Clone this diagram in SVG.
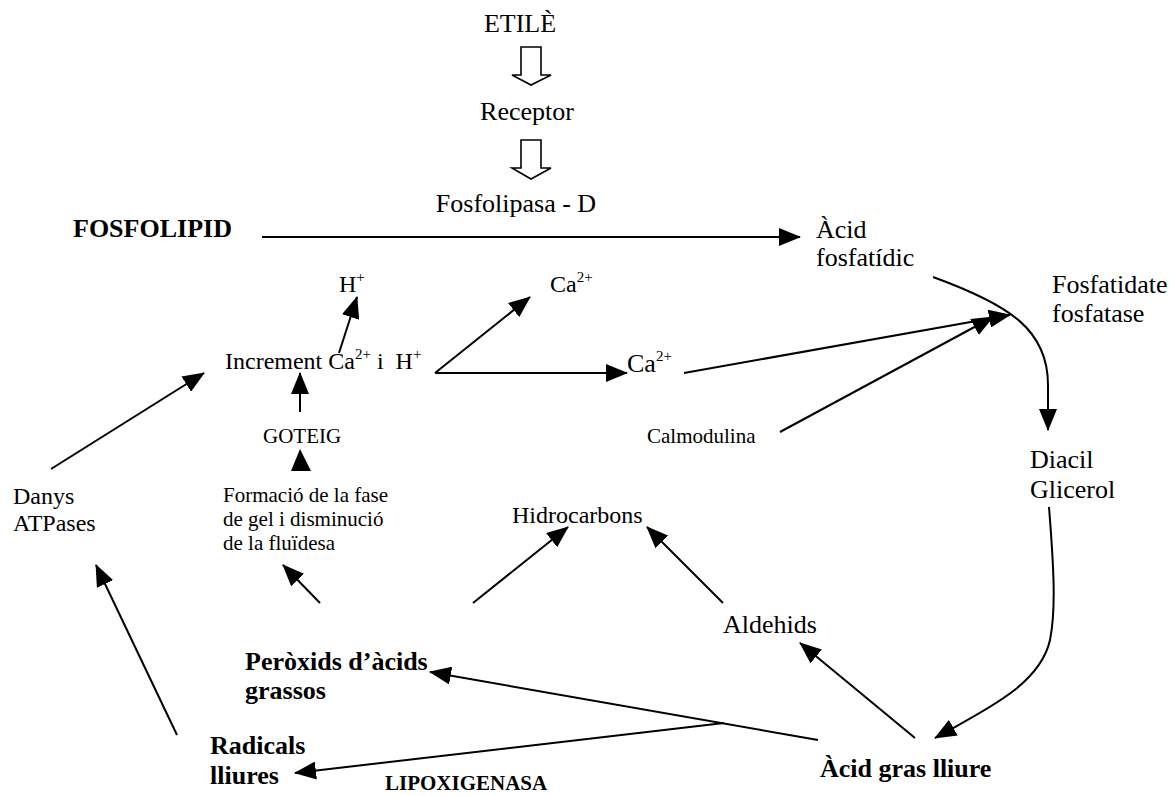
<svg xmlns="http://www.w3.org/2000/svg" width="1175" height="796" viewBox="0 0 1175 796">
<defs>
<style>
text{font-family:"Liberation Serif","Times New Roman",serif;fill:#000}
.b{font-size:26px}
.m{font-size:24px}
.s{font-size:21px}
.bold{font-weight:bold}
.sup{font-size:15px}
.c{fill:none;stroke:#000;stroke-width:2}
.blk{fill:#fff;stroke:#000;stroke-width:1.6}
</style>
<marker id="ah" markerUnits="userSpaceOnUse" markerWidth="22" markerHeight="18" viewBox="0 0 22 18" refX="21" refY="9" orient="auto">
<path d="M0,0 L22,9 L0,18 z" fill="#000"/>
</marker>
</defs>
<rect width="1175" height="796" fill="#fff"/>

<g id="etile"><text class="b" x="520" y="32" text-anchor="middle">ETILÈ</text></g>
<g id="receptor"><text class="b" x="527" y="120" text-anchor="middle">Receptor</text></g>
<g id="fosfolipasa"><text class="b" x="516" y="212" text-anchor="middle">Fosfolipasa - D</text></g>
<g id="fosfolipid"><text class="b bold" x="73" y="237">FOSFOLIPID</text></g>
<g id="acid-fosfatidic"><text class="b" x="816" y="238">Àcid</text><text class="b" x="816" y="266">fosfatídic</text></g>
<g id="fosfatidate"><text class="b" x="1052" y="293">Fosfatidate</text><text class="b" x="1052" y="322">fosfatase</text></g>
<g id="h-plus"><text class="m" x="339" y="292">H<tspan class="sup" dy="-10">+</tspan></text></g>
<g id="increment"><text class="m" x="225" y="369">Increment Ca<tspan class="sup" dy="-10">2+</tspan><tspan dy="10" xml:space="preserve"> i  H</tspan><tspan class="sup" dy="-10">+</tspan></text></g>
<g id="ca-upper"><text class="m" x="550" y="292">Ca<tspan class="sup" dy="-10">2+</tspan></text></g>
<g id="ca-lower"><text class="b" x="627" y="372">Ca<tspan class="sup" dy="-11">2+</tspan></text></g>
<g id="calmodulina"><text class="s" x="647" y="443">Calmodulina</text></g>
<g id="goteig"><text class="s" x="263" y="443">GOTEIG</text></g>
<g id="diacil"><text class="b" x="1030" y="468">Diacil</text><text class="b" x="1030" y="498">Glicerol</text></g>
<g id="danys"><text class="m" x="13" y="504">Danys</text><text class="m" x="13" y="531">ATPases</text></g>
<g id="formacio"><text class="s" x="223" y="502">Formació de la fase</text><text class="s" x="223" y="526">de gel i disminució</text><text class="s" x="223" y="550">de la fluïdesa</text></g>
<g id="hidrocarbons"><text class="m" x="512" y="523">Hidrocarbons</text></g>
<g id="aldehids"><text class="b" x="723" y="633">Aldehids</text></g>
<g id="peroxids"><text class="b bold" x="245" y="670">Peròxids d’àcids</text><text class="b bold" x="245" y="699">grassos</text></g>
<g id="radicals"><text class="b bold" x="210" y="754">Radicals</text><text class="b bold" x="210" y="784">lliures</text></g>
<g id="lipoxigenasa"><text class="s bold" x="385" y="790">LIPOXIGENASA</text></g>
<g id="acid-gras"><text class="b bold" x="820" y="777">Àcid gras lliure</text></g>

<g id="connectors">
<path class="blk" d="M521,47 H541 V75 H551 L531,85 L512,75 H521 Z"/>
<path class="blk" d="M521,140 H541 V168 H551 L531,179 L512,168 H521 Z"/>
<line class="c" x1="262" y1="237" x2="800" y2="237" marker-end="url(#ah)"/>
<line class="c" x1="339" y1="353" x2="357" y2="297" marker-end="url(#ah)"/>
<line class="c" x1="435" y1="373" x2="530" y2="297" marker-end="url(#ah)"/>
<line class="c" x1="435" y1="373" x2="627" y2="373" marker-end="url(#ah)"/>
<line class="c" x1="684" y1="373" x2="1010" y2="315" marker-end="url(#ah)"/>
<line class="c" x1="780" y1="432" x2="993" y2="317" marker-end="url(#ah)"/>
<path class="c" d="M933,277 C1010,305 1048,330 1048,385 L1048,430" marker-end="url(#ah)"/>
<path class="c" d="M1049,507 C1054,570 1056,610 1050,640 C1040,685 985,710 935,738" marker-end="url(#ah)"/>
<line class="c" x1="915" y1="738" x2="800" y2="643" marker-end="url(#ah)"/>
<line class="c" x1="723" y1="603" x2="647" y2="527" marker-end="url(#ah)"/>
<line class="c" x1="473" y1="603" x2="568" y2="527" marker-end="url(#ah)"/>
<line class="c" x1="320" y1="603" x2="283" y2="565" marker-end="url(#ah)"/>
<path d="M300,449 L291,471 L311,471 Z" fill="#000"/>
<line class="c" x1="300" y1="412" x2="300" y2="373" marker-end="url(#ah)"/>
<line class="c" x1="51" y1="469" x2="204" y2="373" marker-end="url(#ah)"/>
<line class="c" x1="177" y1="735" x2="96" y2="565" marker-end="url(#ah)"/>
<line class="c" x1="818" y1="740" x2="430" y2="672" marker-end="url(#ah)"/>
<line class="c" x1="724" y1="723" x2="295" y2="773" marker-end="url(#ah)"/>
</g>
</svg>
